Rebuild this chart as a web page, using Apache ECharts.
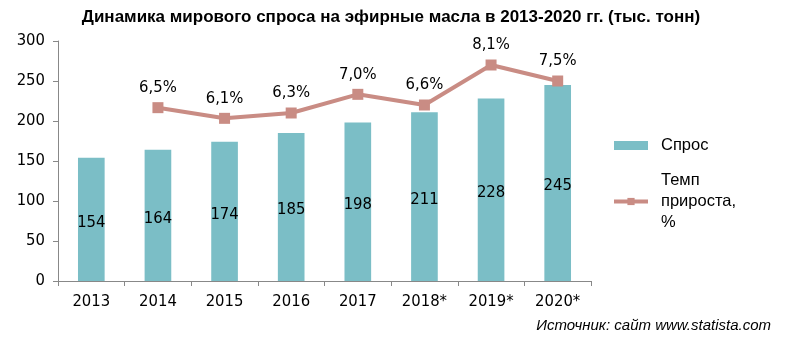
<!DOCTYPE html>
<html><head><meta charset="utf-8">
<script src="https://cdn.jsdelivr.net/npm/echarts@6/dist/echarts.min.js"></script>
<style>html,body{margin:0;padding:0;background:#fff}#c{width:792px;height:344px}</style>
</head><body><div id="c"></div>
<script>
const categories = ['2013','2014','2015','2016','2017','2018*','2019*','2020*'];
const demand = [154,164,174,185,198,211,228,245];
const growth = [null,6.5,6.1,6.3,7.0,6.6,8.1,7.5];
const yTicks = [0,50,100,150,200,250,300];

const numFont = '"DejaVu Sans Condensed","DejaVu Sans",sans-serif';
const chart = echarts.init(document.getElementById('c'), null, {renderer:'canvas'});
chart.setOption({
  animation:false,
  backgroundColor:'#fff',
  title:{
    text:'Динамика мирового спроса на эфирные масла в 2013-2020 гг. (тыс. тонн)',
    left:386, top:4, textAlign:'center',
    textStyle:{fontFamily:'"Liberation Sans",Arial,sans-serif',fontWeight:'bold',fontSize:17,color:'#000'}
  },
  graphic:[{
    type:'text', right:21, top:318,
    style:{text:'Источник: сайт www.statista.com', fontFamily:'"Liberation Sans",Arial,sans-serif',
      fontStyle:'italic', fontSize:15, fill:'#000'}
  }],
  legend:{
    orient:'vertical', left:607, top:130, itemWidth:34, itemHeight:9, itemGap:14,
    textStyle:{fontFamily:'"Liberation Sans",Arial,sans-serif',fontSize:16.5,color:'#000',lineHeight:21,padding:[0,0,0,8]},
    data:[
      {name:'Спрос', icon:'rect'},
      {name:'Темп прироста, %', lineStyle:{width:4}}
    ],
    formatter:function(n){return n==='Темп прироста, %'?'Темп\nприроста,\n%':n;}
  },
  grid:{left:58,right:201,top:41,bottom:63,containLabel:false},
  xAxis:{
    type:'category', data:categories, boundaryGap:true,
    axisLine:{lineStyle:{color:'#888',width:1}},
    axisTick:{show:true,length:5,inside:false,alignWithLabel:false,lineStyle:{color:'#888'}},
    axisLabel:{color:'#000',fontFamily:numFont,fontSize:16.5,margin:12}
  },
  yAxis:[{
    type:'value', min:yTicks[0], max:yTicks[yTicks.length-1], interval:50,
    splitLine:{show:false},
    axisLine:{show:true,lineStyle:{color:'#888',width:1}},
    axisTick:{show:true,length:5,lineStyle:{color:'#888'}},
    axisLabel:{color:'#000',fontFamily:numFont,fontSize:16.5,margin:13}
  },{
    type:'value', min:0, max:9, show:false, splitLine:{show:false}
  }],
  series:[{
    name:'Спрос', type:'bar', data:demand, barWidth:'40%',
    itemStyle:{color:'#7BBEC6'},
    label:{show:true,position:'inside',offset:[0,3],color:'#000',fontFamily:numFont,fontSize:16.5}
  },{
    name:'Темп прироста, %', type:'line', yAxisIndex:1, data:growth,
    symbol:'rect', symbolSize:11,
    lineStyle:{color:'#C98C84',width:4},
    itemStyle:{color:'#C98C84'},
    label:{show:true,position:'top',distance:6,color:'#000',fontFamily:numFont,fontSize:16.5,
      formatter:function(p){return p.value.toFixed(1).replace('.',',')+'%';}}
  }]
});
</script></body></html>
